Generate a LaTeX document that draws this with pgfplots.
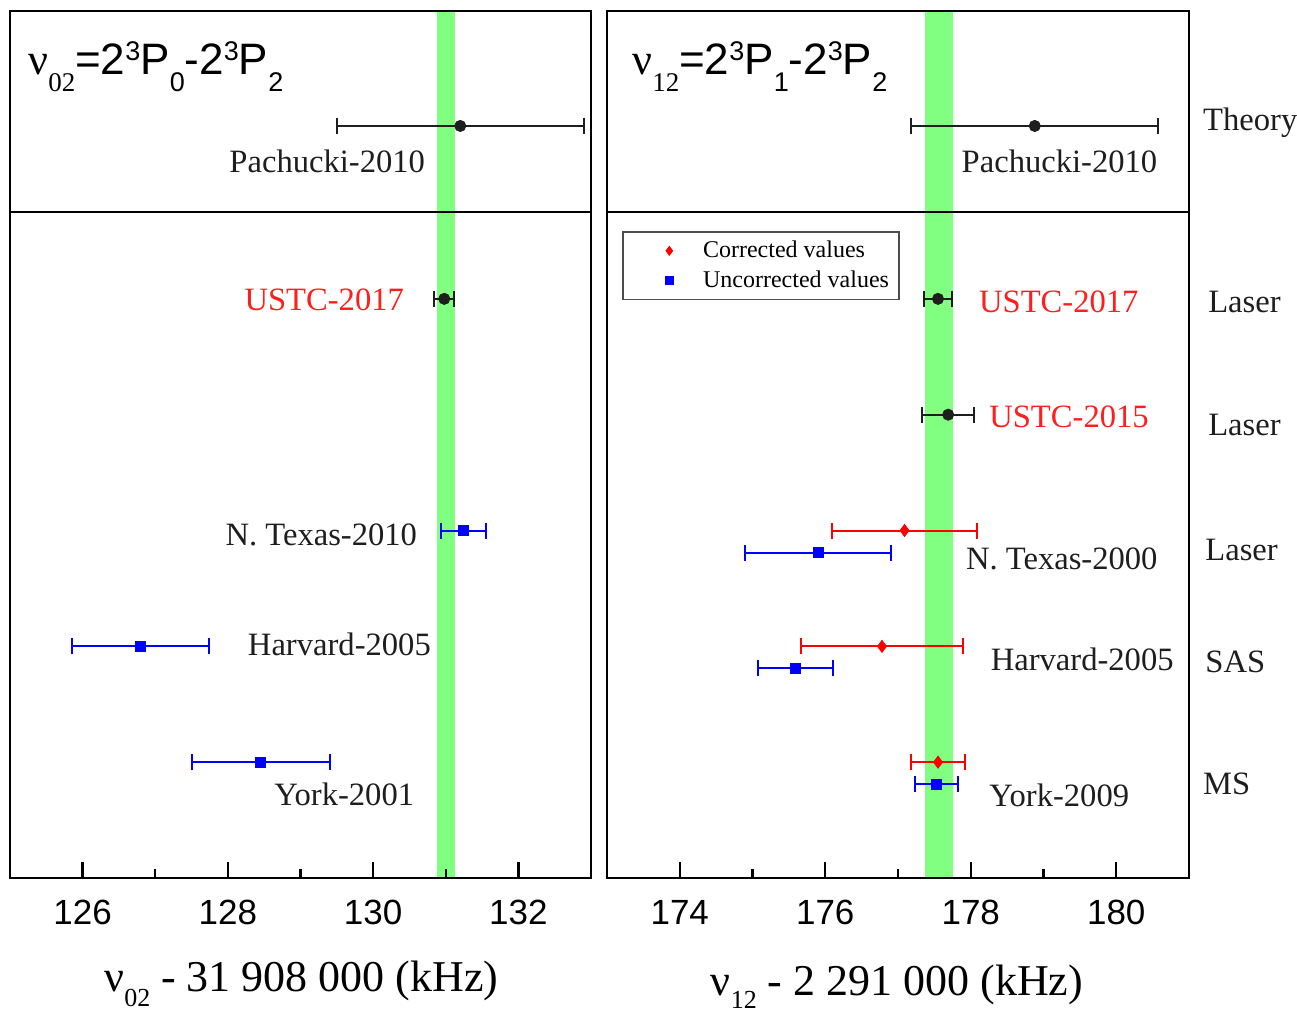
\documentclass[border=0pt]{standalone}
\usepackage{pgfplots}
\pgfplotsset{compat=1.18}
\usepackage{fontspec}
\setmainfont{Liberation Serif}
\newfontfamily\arial{Liberation Sans}
\definecolor{band}{RGB}{128,255,128}
\definecolor{myred}{RGB}{255,0,0}
\definecolor{myblue}{RGB}{0,0,255}
\definecolor{dk}{RGB}{30,30,30}
\definecolor{lblred}{RGB}{255,30,30}
\newcommand{\lbl}{\fontsize{16.3}{18}\selectfont}

\pgfplotsset{
  panel/.style={scale only axis, axis line style={line width=1.2pt, black}, ytick=\empty,
    axis on top, clip=false, anchor=south west},
  bottompanel/.style={panel, height=333pt, ymin=0, ymax=5.75, xtick pos=bottom,
    tick align=inside, major tick length=8pt, minor tick length=4.5pt,
    every tick/.style={line width=1.2pt, black}, minor x tick num=1,
    xticklabel style={font=\arial\fontsize{17.5}{18}\selectfont, yshift=-7.5pt},
    /pgf/number format/assume math mode=true},
  toppanel/.style={panel, height=100.5pt, ymin=0, ymax=1.736, xtick=\empty},
  eb/.style={only marks,
    /pgfplots/error bars/x dir=both, /pgfplots/error bars/x explicit,
    /pgfplots/error bars/error mark=|,
    /pgfplots/error bars/error bar style={line width=1pt},
    /pgfplots/error bars/error mark options={line width=1pt, mark size=4pt}},
}

\begin{document}
\begin{tikzpicture}
\useasboundingbox (0,0) rectangle (648.5pt,506pt);

% ---------------- left top ----------------
\begin{axis}[toppanel, at={(5pt,400pt)}, width=290.5pt, xmin=125, xmax=133]
\addplot[fill=band, draw=none, forget plot] coordinates {(130.88,0) (131.13,0) (131.13,1.736) (130.88,1.736)} -- cycle;
\addplot[eb, color=dk, mark=*, mark size=2.8pt] coordinates {(131.2,0.743) +- (1.7,0)};
\node[anchor=base east, font=\lbl, text=dk, inner sep=0] at (axis cs:130.72,0.345) {Pachucki-2010};
\end{axis}

% ---------------- left bottom ----------------
\begin{axis}[bottompanel, at={(5pt,67pt)}, width=290.5pt, xmin=125, xmax=133,
  xtick={126,128,130,132}]
\addplot[fill=band, draw=none, forget plot] coordinates {(130.88,0) (131.13,0) (131.13,5.75) (130.88,5.75)} -- cycle;
\addplot[eb, color=dk, mark=*, mark size=2.8pt] coordinates {(130.98,5) +- (0.14,0)};
\addplot[eb, color=myblue, mark=square*, mark size=2.5pt] coordinates {
  (131.25,3) +- (0.31,0)
  (126.8,2) +- (0.94,0)
  (128.45,1) +- (0.95,0)};
\node[anchor=base east, font=\lbl, text=lblred, inner sep=0] at (axis cs:130.43,4.896) {USTC-2017};
\node[anchor=base east, font=\lbl, text=dk, inner sep=0] at (axis cs:130.61,2.867) {N. Texas-2010};
\node[anchor=base east, font=\lbl, text=dk, inner sep=0] at (axis cs:130.8,1.917) {Harvard-2005};
\node[anchor=base east, font=\lbl, text=dk, inner sep=0] at (axis cs:130.57,0.622) {York-2001};
\end{axis}

% ---------------- right top ----------------
\begin{axis}[toppanel, at={(303.5pt,400pt)}, width=291pt, xmin=173, xmax=181]
\addplot[fill=band, draw=none, forget plot] coordinates {(177.37,0) (177.75,0) (177.75,1.736) (177.37,1.736)} -- cycle;
\addplot[eb, color=dk, mark=*, mark size=2.8pt] coordinates {(178.88,0.743) +- (1.7,0)};
\node[anchor=base west, font=\lbl, text=dk, inner sep=0] at (axis cs:177.87,0.345) {Pachucki-2010};
\node[anchor=base west, font=\lbl, text=dk, inner sep=0] at (axis cs:181.19,0.708) {Theory};
\end{axis}

% ---------------- right bottom ----------------
\begin{axis}[bottompanel, at={(303.5pt,67pt)}, width=291pt, xmin=173, xmax=181,
  xtick={174,176,178,180},
  legend style={at={(axis description cs:0.026,0.971)}, anchor=north west,
    draw=black!70, line width=0.7pt, inner xsep=3pt, inner ysep=2.5pt,
    font=\fontsize{12}{13}\selectfont, row sep=1pt, cells={anchor=west}},
  legend image code/.code={\path (0cm,0cm) (1.21cm,0cm); \draw[#1] plot coordinates {(0.7cm,0cm)};},
  legend image post style={mark size=2pt}]
\addplot[fill=band, draw=none, forget plot] coordinates {(177.37,0) (177.75,0) (177.75,5.75) (177.37,5.75)} -- cycle;
\addplot[eb, color=dk, mark=*, mark size=2.8pt, forget plot] coordinates {
  (177.55,5) +- (0.19,0)
  (177.69,4) +- (0.36,0)};
\addplot[eb, color=myred, mark=diamond*, mark size=3pt] coordinates {
  (177.09,3) +- (1.0,0)
  (176.78,2) +- (1.12,0)
  (177.55,1) +- (0.365,0)};
\addlegendentry{Corrected values}
\addplot[eb, color=myblue, mark=square*, mark size=2.5pt] coordinates {
  (175.9,2.81) +- (1.0,0)
  (175.59,1.81) +- (0.51,0)
  (177.53,0.81) +- (0.30,0)};
\addlegendentry{Uncorrected values}
\node[anchor=base west, font=\lbl, text=lblred, inner sep=0] at (axis cs:178.11,4.879) {USTC-2017};
\node[anchor=base west, font=\lbl, text=lblred, inner sep=0] at (axis cs:178.25,3.886) {USTC-2015};
\node[anchor=base west, font=\lbl, text=dk, inner sep=0] at (axis cs:177.93,2.66) {N. Texas-2000};
\node[anchor=base west, font=\lbl, text=dk, inner sep=0] at (axis cs:178.27,1.788) {Harvard-2005};
\node[anchor=base west, font=\lbl, text=dk, inner sep=0] at (axis cs:178.25,0.613) {York-2009};
\node[anchor=base west, font=\lbl, text=dk, inner sep=0] at (axis cs:181.26,4.879) {Laser};
\node[anchor=base west, font=\lbl, text=dk, inner sep=0] at (axis cs:181.26,3.817) {Laser};
\node[anchor=base west, font=\lbl, text=dk, inner sep=0] at (axis cs:181.22,2.737) {Laser};
\node[anchor=base west, font=\lbl, text=dk, inner sep=0] at (axis cs:181.22,1.77) {SAS};
\node[anchor=base west, font=\lbl, text=dk, inner sep=0] at (axis cs:181.19,0.725) {MS};
\end{axis}

% ---------------- titles and axis labels ----------------
\node[anchor=base west, inner sep=0] at (14pt,468.5pt) {\fontsize{22}{22}\selectfont ν\raisebox{-8.5pt}{\fontsize{13.5}{14}\selectfont 02}\arial\fontsize{22}{22}\selectfont =2\raisebox{7pt}{\fontsize{13.5}{12}\selectfont 3}P\raisebox{-8.5pt}{\fontsize{13.5}{12}\selectfont 0}-2\raisebox{7pt}{\fontsize{13.5}{12}\selectfont 3}P\raisebox{-8.5pt}{\fontsize{13.5}{12}\selectfont 2}};
\node[anchor=base west, inner sep=0] at (316pt,468.5pt) {\fontsize{22}{22}\selectfont ν\raisebox{-8.5pt}{\fontsize{13.5}{14}\selectfont 12}\arial\fontsize{22}{22}\selectfont =2\raisebox{7pt}{\fontsize{13.5}{12}\selectfont 3}P\raisebox{-8.5pt}{\fontsize{13.5}{12}\selectfont 1}-2\raisebox{7pt}{\fontsize{13.5}{12}\selectfont 3}P\raisebox{-8.5pt}{\fontsize{13.5}{12}\selectfont 2}};
\node[anchor=base, inner sep=0] at (150.75pt,10pt) {\fontsize{22}{22}\selectfont ν\raisebox{-7.5pt}{\fontsize{13}{13}\selectfont 02} - 31 908 000 (kHz)};
\node[anchor=base, inner sep=0] at (448.5pt,8pt) {\fontsize{22}{22}\selectfont ν\raisebox{-6.5pt}{\fontsize{13}{13}\selectfont 12} - 2 291 000 (kHz)};
\end{tikzpicture}
\end{document}
